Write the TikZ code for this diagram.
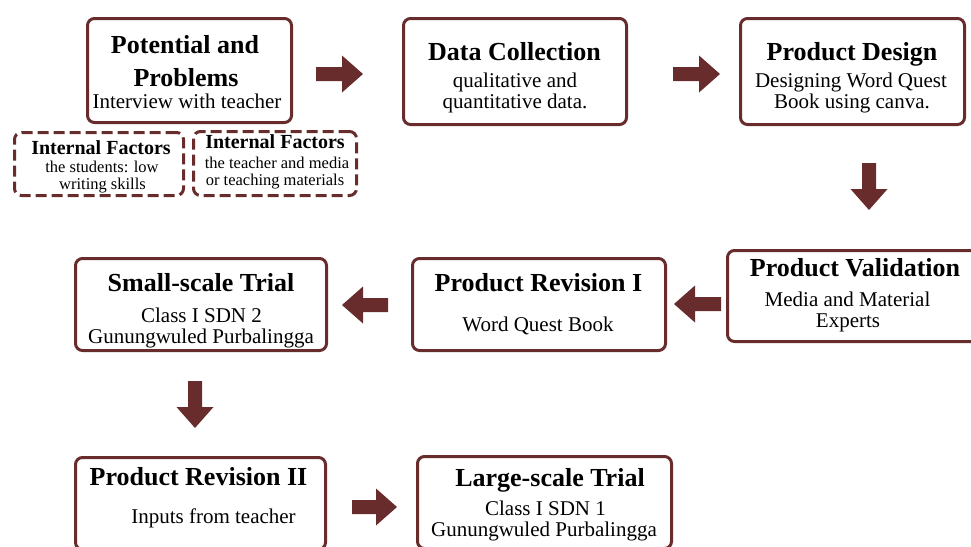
\documentclass[tikz,border=0pt]{standalone}
\usepackage{fontspec}
\setmainfont{Liberation Serif}
\definecolor{maroon}{HTML}{682C2C}
\tikzset{
  box/.style={draw=maroon, line width=3pt, rounded corners=7pt, inner sep=0pt},
  dbox/.style={box, dash pattern=on 11pt off 5pt},
  ttl/.style={font=\fontsize{26}{28}\selectfont\bfseries, anchor=base, inner sep=0pt},
  sub/.style={font=\fontsize{21}{22}\selectfont, anchor=base, inner sep=0pt},
  ittl/.style={font=\fontsize{20}{22}\selectfont\bfseries, anchor=base, inner sep=0pt},
  isub/.style={font=\fontsize{16.5}{17}\selectfont, anchor=base, inner sep=0pt}
}
% block arrow: tail coordinate, direction (degrees), length
\newcommand\blockarrow[3]{%
  \fill[maroon, shift={(#1)}, rotate=#2]
    (0,-7) -- (#3-21,-7) -- (#3-21,-18.5) -- (#3,0) -- (#3-21,18.5)
    -- (#3-21,7) -- (0,7) -- cycle;}
\begin{document}
\begin{tikzpicture}[x=1pt, y=-1pt]
\useasboundingbox (0,0) rectangle (971,546);
\clip (0,0) rectangle (971,546);

% ---- boxes ----
\node[box, minimum width=204pt, minimum height=104pt] (pp) at (189.5,70.5) {};
\node[box, minimum width=223pt, minimum height=106pt] (dc) at (515,71.5) {};
\node[box, minimum width=224pt, minimum height=106pt] (pd) at (852.5,71.5) {};
\node[dbox, minimum width=169pt, minimum height=63pt] (if1) at (99,164) {};
\node[dbox, minimum width=163pt, minimum height=64pt] (if2) at (275,163.5) {};
\node[box, minimum width=251pt, minimum height=92pt] (st) at (201,304.5) {};
\node[box, minimum width=253pt, minimum height=92pt] (r1) at (539,304.5) {};
\node[box, minimum width=255pt, minimum height=91pt] (pv) at (855,296) {};
\node[box, minimum width=250pt, minimum height=92pt] (r2) at (200.5,503.5) {};
\node[box, minimum width=254pt, minimum height=92pt] (lt) at (544.5,502.5) {};

% ---- texts ----
\node[ttl] (pp1) at (185,53) {Potential and};
\node[ttl] (pp2) at (186,86) {Problems};
\node[sub] (pp3) at (187,108.5) {Interview with teacher};

\node[ittl] (if1a) at (101,154) {Internal Factors};
\node[isub] (if1b) at (102,172) {the students: low};
\node[isub] (if1c) at (102.5,189) {writing skills};

\node[ittl] (if2a) at (275,148) {Internal Factors};
\node[isub] (if2b) at (277,168.5) {the teacher and media};
\node[isub] (if2c) at (275,185.5) {or teaching materials};

\node[ttl] (dc1) at (514.5,60) {Data Collection};
\node[sub] (dc2) at (515,87) {qualitative and};
\node[sub] (dc3) at (515,108) {quantitative data.};

\node[ttl] (pd1) at (852,60) {Product Design};
\node[sub] (pd2) at (851,87) {Designing Word Quest};
\node[sub] (pd3) at (852,108) {Book using canva.};

\node[ttl] (pv1) at (855,276) {Product Validation};
\node[sub] (pv2) at (847.5,306) {Media and Material};
\node[sub] (pv3) at (848,327) {Experts};

\node[ttl] (r1a) at (538.5,291) {Product Revision I};
\node[sub] (r1b) at (538,331) {Word Quest Book};

\node[ttl] (st1) at (201,291) {Small-scale Trial};
\node[sub] (st2) at (201.5,322) {Class I SDN 2};
\node[sub] (st3) at (201,343) {Gunungwuled Purbalingga};

\node[ttl] (r2a) at (198.5,485) {Product Revision II};
\node[sub] (r2b) at (213.5,523) {Inputs from teacher};

\node[ttl] (lt1) at (550,486) {Large-scale Trial};
\node[sub] (lt2) at (545.5,515) {Class I SDN 1};
\node[sub] (lt3) at (544,536) {Gunungwuled Purbalingga};

% ---- block arrows ----
\coordinate (a1) at (316,74);
\coordinate (a2) at (673,74);
\coordinate (a3) at (869,163);
\coordinate (a4) at (721,304);
\coordinate (a5) at (388,305);
\coordinate (a6) at (195,381);
\coordinate (a7) at (352,507);
\blockarrow{a1}{0}{47}
\blockarrow{a2}{0}{47}
\blockarrow{a3}{-90}{47}
\blockarrow{a4}{180}{47}
\blockarrow{a5}{180}{46}
\blockarrow{a6}{-90}{47}
\blockarrow{a7}{0}{45}
\end{tikzpicture}
\end{document}
